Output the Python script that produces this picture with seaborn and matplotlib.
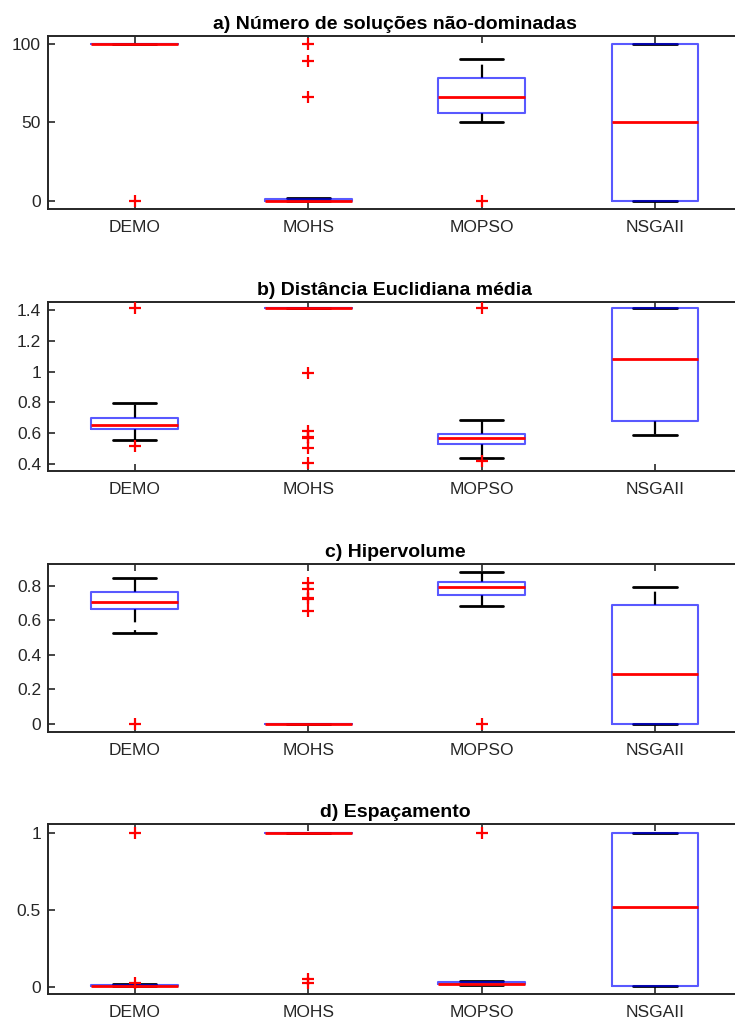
import numpy as np
import pandas as pd
import matplotlib
matplotlib.use("Agg")
import matplotlib.pyplot as plt
import seaborn as sns

# ---------------- data ----------------
algorithms = ["DEMO", "MOHS", "MOPSO", "NSGAII"]

titles = ["a) Número de soluções não-dominadas",
          "b) Distância Euclidiana média",
          "c) Hipervolume",
          "d) Espaçamento"]

# a) number of non-dominated solutions
a_q1 = [100, 0, 56, 0]
a_med = [100, 0, 66, 50]
a_q3 = [100, 1, 78, 100]
a_lo = [100, 0, 50, 0]
a_hi = [100, 2, 90, 100]
a_out = [[0], [66, 89, 100], [0], []]

# b) mean euclidean distance
b_q1 = [0.628, 1.414, 0.528, 0.68]
b_med = [0.654, 1.414, 0.571, 1.08]
b_q3 = [0.698, 1.414, 0.595, 1.414]
b_lo = [0.556, 1.414, 0.439, 0.591]
b_hi = [0.797, 1.414, 0.686, 1.414]
b_out = [[0.517, 1.414], [0.408, 0.506, 0.57, 0.576, 0.613, 0.994], [0.421, 1.414], []]

# c) hypervolume
c_q1 = [0.665, 0.0, 0.746, 0.0]
c_med = [0.709, 0.0, 0.796, 0.29]
c_q3 = [0.765, 0.0, 0.821, 0.688]
c_lo = [0.53, 0.0, 0.684, 0.0]
c_hi = [0.848, 0.0, 0.881, 0.796]
c_out = [[0.0], [0.657, 0.725, 0.730, 0.783, 0.819], [0.0], []]

# d) spacing
d_q1 = [0.005, 1.0, 0.018, 0.006]
d_med = [0.006, 1.0, 0.02, 0.515]
d_q3 = [0.013, 1.0, 0.032, 1.0]
d_lo = [0.002, 1.0, 0.009, 0.006]
d_hi = [0.021, 1.0, 0.039, 1.0]
d_out = [[0.027, 1.0], [0.022, 0.05], [1.0], []]

yticks = [[0, 50, 100],
          [0.4, 0.6, 0.8, 1.0, 1.2, 1.4],
          [0, 0.2, 0.4, 0.6, 0.8],
          [0, 0.5, 1]]
yticklabels = [["0", "50", "100"],
               ["0.4", "0.6", "0.8", "1", "1.2", "1.4"],
               ["0", "0.2", "0.4", "0.6", "0.8"],
               ["0", "0.5", "1"]]
ylims = [(-5.3, 104.9), (0.354, 1.454), (-0.046, 0.927), (-0.047, 1.056)]

panels = [
    (a_q1, a_med, a_q3, a_lo, a_hi, a_out),
    (b_q1, b_med, b_q3, b_lo, b_hi, b_out),
    (c_q1, c_med, c_q3, c_lo, c_hi, c_out),
    (d_q1, d_med, d_q3, d_lo, d_hi, d_out),
]


def build_table(q1, med, q3, lo, hi, outs, k=20):
    """Long table whose box statistics equal the values read above."""
    rows = []
    for alg, a, m, b, l, h, o in zip(algorithms, q1, med, q3, lo, hi, outs):
        vals = list(o) + [l] + [a] * k + [m] * k + [b] * k + [h]
        rows += [(alg, v) for v in vals]
    return pd.DataFrame(rows, columns=["alg", "val"])


# ---------------- style ----------------
sns.set_theme(style="ticks")
dark = "#262626"
plt.rcParams["font.family"] = ["Liberation Sans", "DejaVu Sans"]
plt.rcParams.update({
    "axes.edgecolor": dark,
    "axes.linewidth": 1.4,
    "xtick.color": dark,
    "ytick.color": dark,
    "xtick.labelcolor": dark,
    "ytick.labelcolor": dark,
})

fig = plt.figure(figsize=(7.35, 10.21), dpi=100)

# axes rectangles (left, bottom, width, height) in figure fraction
rects = [
    (0.0653, 0.7953, 0.944, 0.1694),
    (0.0653, 0.5387, 0.944, 0.1655),
    (0.0653, 0.2831, 0.944, 0.1645),
    (0.0653, 0.0264, 0.944, 0.1665),
]

for i, (stats, rect) in enumerate(zip(panels, rects)):
    ax = fig.add_axes(rect)
    df = build_table(*stats)
    sns.boxplot(
        data=df, x="alg", y="val", order=algorithms, ax=ax,
        width=0.5, fill=False, whis=1.5,
        boxprops=dict(color=(0, 0, 1, 0.65), linewidth=1.5, zorder=3),
        medianprops=dict(color="red", linewidth=2.0, zorder=4),
        whiskerprops=dict(color="black", linewidth=1.6, zorder=2,
                          linestyle=(0, (6.0, 3.5))),
        capprops=dict(color="black", linewidth=2.0, zorder=2),
        flierprops=dict(marker="+", markeredgecolor="red", markerfacecolor="red",
                        markersize=9, markeredgewidth=1.6, zorder=5),
    )
    ax.set_xlim(-0.5, 3.5)
    ax.set_ylim(*ylims[i])
    ax.set_yticks(yticks[i])
    ax.set_yticklabels(yticklabels[i])
    ax.set_xlabel("")
    ax.set_ylabel("")
    for s in ax.spines.values():
        s.set_visible(True)
        s.set_color(dark)
        s.set_linewidth(1.4)
    ax.tick_params(axis="both", direction="in", length=5, width=1.2,
                   top=True, right=True, labelsize=12.5, colors=dark)
    ax.tick_params(axis="x", pad=8)
    ax.tick_params(axis="y", pad=5)
    ax.set_title(titles[i], fontsize=14, fontweight="bold", color="black", pad=5)

fig.savefig("out.png", dpi=100)
